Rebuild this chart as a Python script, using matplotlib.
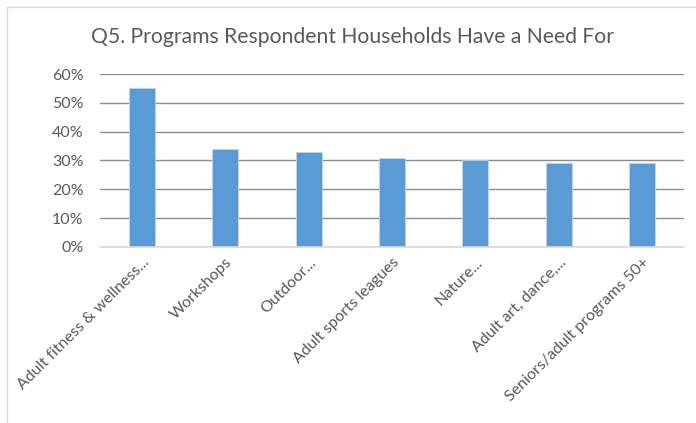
import matplotlib
matplotlib.use("Agg")
import matplotlib.pyplot as plt
from matplotlib.ticker import PercentFormatter
from matplotlib.patches import Rectangle

categories = [
    "Adult fitness & wellness...",
    "Workshops",
    "Outdoor...",
    "Adult sports leagues",
    "Nature...",
    "Adult art, dance,...",
    "Seniors/adult programs 50+",
]
values = [55, 34, 33, 31, 30, 29, 29]
yticks = [0, 10, 20, 30, 40, 50, 60]
title = "Q5. Programs Respondent Households Have a Need For"

plt.rcParams["font.family"] = ["Lato", "DejaVu Sans"]
text_color = "#595959"

fig = plt.figure(figsize=(6.96, 4.23), dpi=100)
fig.patch.set_facecolor("white")

# chart-area frame (light gray, runs off the right and bottom edges)
fig.patches.append(Rectangle((7 / 696, -0.01), 1.0, 1 - 7 / 423 + 0.01,
                             transform=fig.transFigure, fill=False,
                             edgecolor="#d9d9d9", linewidth=1.0))

ax = fig.add_axes([100 / 696, 1 - 247 / 423, 584 / 696, 173 / 423])
x = list(range(len(categories)))
ax.bar(x, values, width=0.31, color="#5b9bd5", edgecolor="#bdd7ee",
       linewidth=0.6, zorder=3)

ax.set_xlim(-0.5, len(categories) - 0.5)
ax.set_ylim(0, 60)
ax.set_yticks(yticks)
ax.yaxis.set_major_formatter(PercentFormatter(decimals=0))
ax.yaxis.grid(True, color="#8c8c8c", linewidth=1.0, zorder=0)
ax.set_axisbelow(True)

for s in ["top", "right", "left"]:
    ax.spines[s].set_visible(False)
ax.spines["bottom"].set_color("#d9d9d9")
ax.spines["bottom"].set_linewidth(1.2)
ax.spines["bottom"].set_zorder(4)

ax.tick_params(axis="y", length=0, pad=12, labelsize=11.5, labelcolor=text_color)
ax.tick_params(axis="x", length=0, pad=6, labelsize=11.5, labelcolor=text_color)
ax.set_xticks(x)
ax.set_xticklabels(categories, rotation=45, ha="right", va="top",
                   rotation_mode="anchor")

fig.text(352 / 696, 1 - 37 / 423, title, ha="center", va="center",
         fontsize=15.2, color=text_color)

fig.savefig("out.png", dpi=100, facecolor="white")
